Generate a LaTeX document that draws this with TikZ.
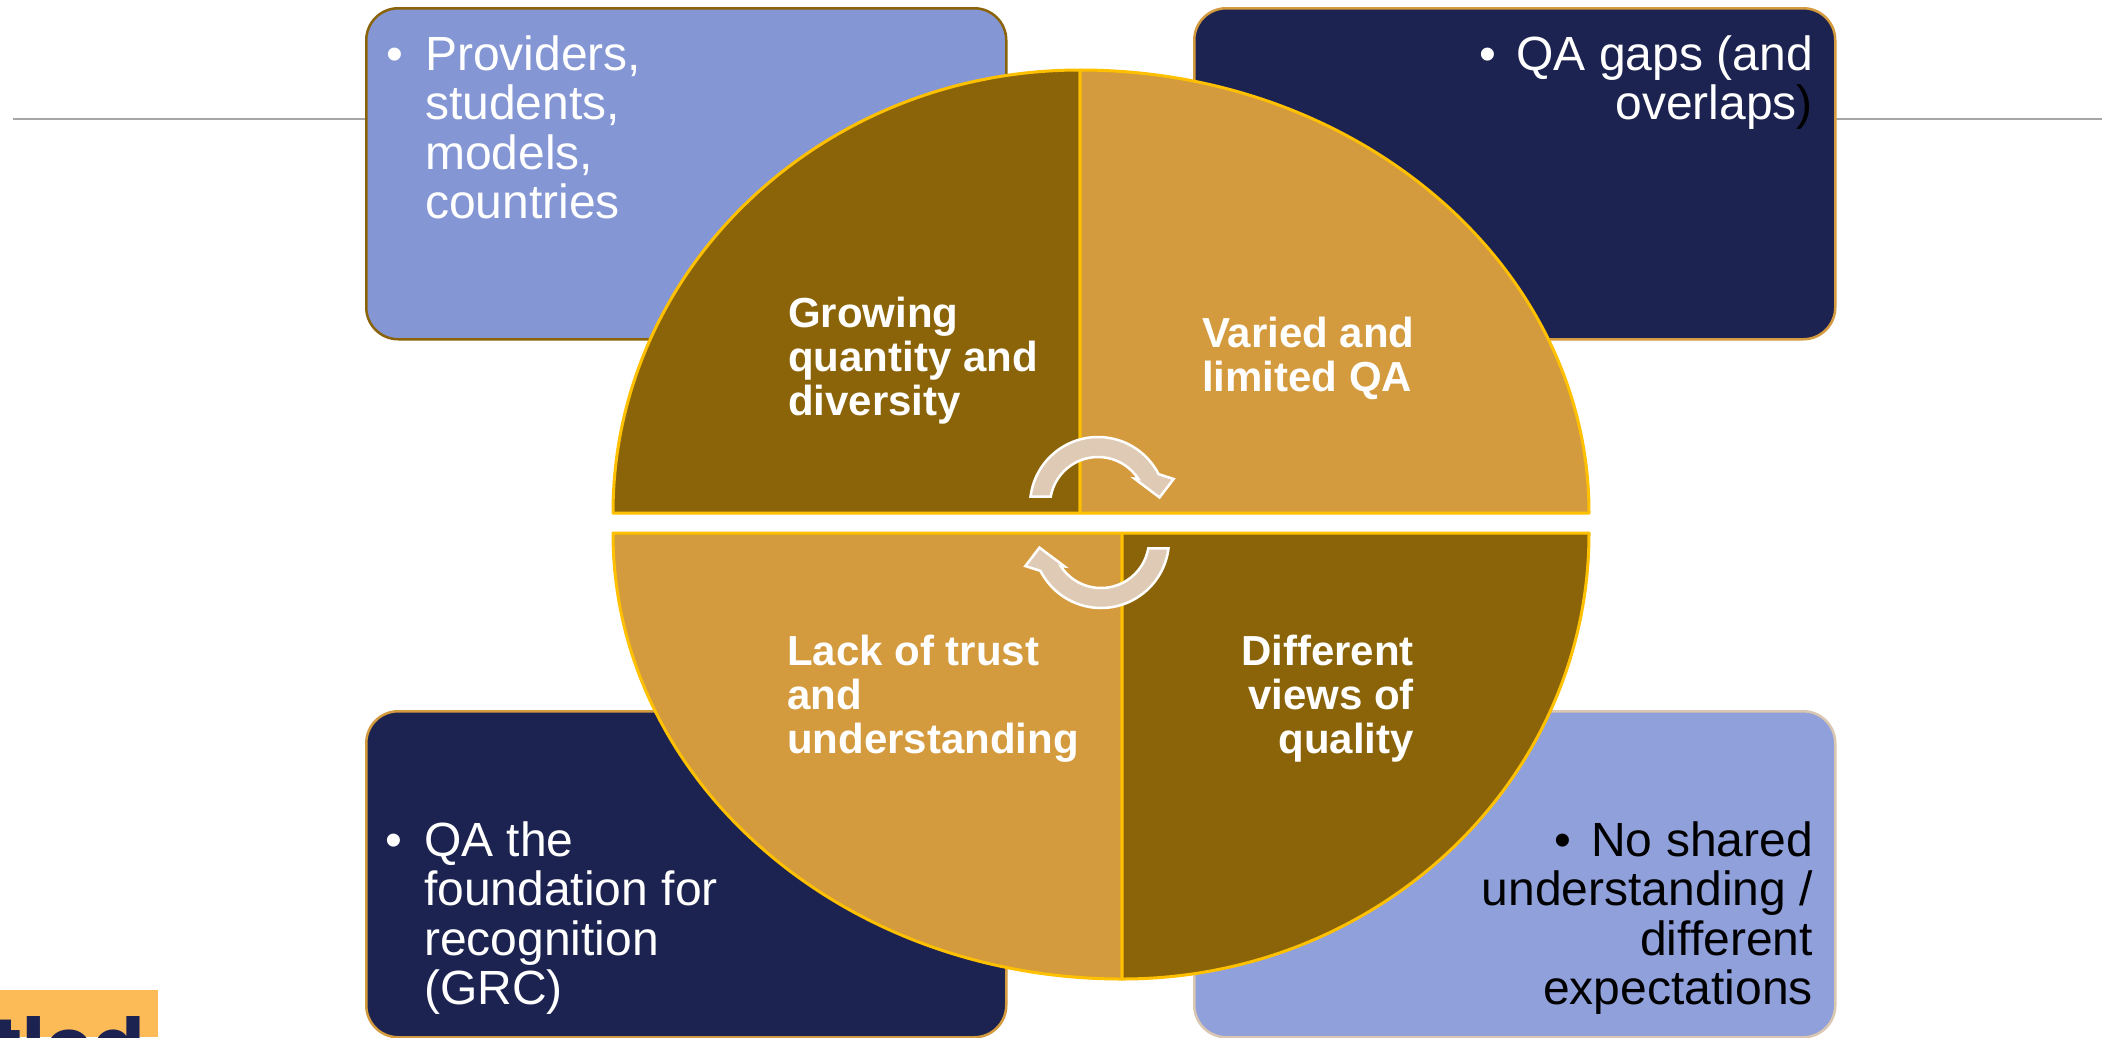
\documentclass[tikz,border=0pt]{standalone}
\usepackage{fontspec}
\setmainfont{Liberation Sans}
\newfontfamily\tagfont{Poppins}
\usetikzlibrary{calc}
\definecolor{darkgold}{HTML}{8B640A}
\definecolor{lightgold}{HTML}{D49A3E}
\definecolor{rimyellow}{HTML}{FFC000}
\definecolor{periA}{HTML}{8596D5}
\definecolor{periB}{HTML}{90A0DA}
\definecolor{navy}{HTML}{1C2350}
\definecolor{goldborder}{HTML}{D49A3E}
\definecolor{tanborder}{HTML}{D9C7B1}
\definecolor{arrowfill}{HTML}{DFCBB5}
\definecolor{rulegray}{HTML}{A6A6A6}
\definecolor{tagorange}{HTML}{FDBB57}
\newcommand\linesL[1]{\vtop{\lineskiplimit=-100pt\lineskip=0pt\halign{##\hfil\cr#1\crcr}}}
\newcommand\linesR[1]{\vtop{\lineskiplimit=-100pt\lineskip=0pt\halign{\hfil##\cr#1\crcr}}}
\tikzset{
  boxtxt/.style={inner sep=0pt, font=\fontsize{48}{49.5}\selectfont},
  midtxt/.style={inner sep=0pt, text=white, font=\fontsize{42}{44}\selectfont\bfseries},
  rim/.style={draw=rimyellow, line width=3pt, line join=round},
  cyc/.style={fill=arrowfill, draw=white, line width=2.5pt, line join=miter},
  card/.style={rectangle, rounded corners=32pt, line width=2.5pt, inner sep=0pt},
}
\begin{document}
\begin{tikzpicture}[x=1pt, y=-1pt]
\useasboundingbox (0,0) rectangle (2102,1037);
\clip (0,0) rectangle (2102,1037);
\fill[white] (0,0) rectangle (2102,1037);

% header rule
\coordinate (ruleL) at (13,119);
\coordinate (ruleR) at (2102,119);
\draw[rulegray, line width=2.2pt] (ruleL) -- (ruleR);

% cards
\node[card, fill=periA, draw=darkgold, minimum width=640pt, minimum height=331pt, anchor=north west] (tlbox) at (365,7) {};
\node[card, fill=navy, draw=goldborder, minimum width=641pt, minimum height=331pt, anchor=north west] (trbox) at (1193,7) {};
\node[card, fill=navy, draw=goldborder, minimum width=640pt, minimum height=326pt, anchor=north west] (blbox) at (365,710) {};
\node[card, fill=periB, draw=tanborder, minimum width=641pt, minimum height=326pt, anchor=north west] (brbox) at (1193,710) {};

\node[boxtxt, text=white, anchor=base west] (tltext) at (425,70)
  {\linesL{\llap{•\hspace{22pt}}Providers,\cr students,\cr models,\cr countries}};
\node[boxtxt, text=white, anchor=base east] (trtext) at (1813,70)
  {\linesR{•\hspace{20pt}QA gaps (and\cr overlaps\textcolor{black}{)}}};
\node[boxtxt, text=white, anchor=base west] (bltext) at (424,856)
  {\linesL{\llap{•\hspace{22pt}}QA the\cr foundation for\cr recognition\cr (GRC)}};
\node[boxtxt, text=black, anchor=base east] (brtext) at (1813,856)
  {\linesR{•\hspace{20pt}No shared\cr understanding /\cr different\cr expectations}};

% quarter pieces
\filldraw[fill=darkgold, rim] (1080,513) -- (613,513)
  arc[start angle=180, end angle=270, x radius=467, y radius=443] -- cycle;
\filldraw[fill=lightgold, rim] (1080,513) -- (1080,70)
  arc[start angle=270, end angle=360, x radius=509, y radius=443] -- cycle;
\filldraw[fill=lightgold, rim] (1122,533) -- (1122,979)
  arc[start angle=90, end angle=180, x radius=509, y radius=446] -- cycle;
\filldraw[fill=darkgold, rim] (1122,533) -- (1589,533)
  arc[start angle=0, end angle=90, x radius=467, y radius=446] -- cycle;

\node[midtxt, anchor=base west] (grow) at (788,327) {\linesL{Growing\cr quantity and\cr diversity}};
\node[midtxt, anchor=base west] (varied) at (1202,347) {\linesL{Varied and\cr limited QA}};
\node[midtxt, anchor=base west] (lack) at (787,665) {\linesL{Lack of trust\cr and\cr understanding}};
\node[midtxt, anchor=base east] (views) at (1414,665) {\linesR{Different\cr views of\cr quality}};

% cycle arrows
\begin{scope}[shift={(1098,505)}]
  \draw[cyc] (187:68) arc[start angle=187, end angle=333, radius=68]
    -- (341:80) -- (353:62) -- (324:45) -- (327:48)
    arc[start angle=327, end angle=190, radius=48] -- cycle;
\end{scope}
\begin{scope}[shift={(1101,540)}, rotate=180]
  \draw[cyc] (187:68) arc[start angle=187, end angle=333, radius=68]
    -- (341:80) -- (353:62) -- (324:45) -- (327:48)
    arc[start angle=327, end angle=190, radius=48] -- cycle;
\end{scope}

% title fragment
\fill[tagorange] (0,990) rectangle (158,1037);
\node[anchor=base east, inner sep=0pt, text=navy, font=\tagfont\bfseries\fontsize{77}{80}\selectfont] (tag) at (145,1073) {tled};
\end{tikzpicture}
\end{document}
